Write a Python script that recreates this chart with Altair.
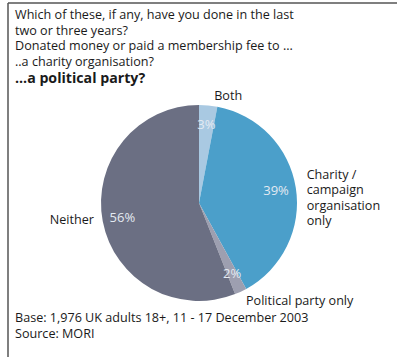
import altair as alt
import pandas as pd

categories = ["Both", "Charity / campaign organisation only", "Political party only", "Neither"]
values = [3, 39, 2, 56]
colors = ["#a9c9e2", "#4b9fca", "#9d9fb0", "#6b6f83"]
pct_labels = ["3%", "39%", "2%", "56%"]
title_lines = [
    "Which of these, if any, have you done in the last",
    "two or three years?",
    "Donated money or paid a membership fee to ...",
    "..a charity organisation?",
]
subtitle = "...a political party?"
footer_lines = ["Base: 1,976 UK adults 18+, 11 - 17 December 2003", "Source: MORI"]

df = pd.DataFrame({"cat": categories, "value": values, "pct": pct_labels,
                   "order": list(range(len(categories)))})

FONT = "Open Sans"
FS = 12.6
CX, CY, R = 199, 203, 98

base = alt.Chart(df).transform_stack(
    stack="value", groupby=[], as_=["v0", "v1"], sort=[alt.SortField("order")]
).transform_calculate(vmid="(datum.v0 + datum.v1) / 2")

theta_scale = alt.Scale(domain=[0, 100], range=[0, 6.283185307179586])

arcs = base.mark_arc(outerRadius=R, stroke=None).encode(
    theta=alt.Theta("v0:Q", scale=theta_scale),
    theta2="v1:Q",
    color=alt.Color("cat:N", scale=alt.Scale(domain=categories, range=colors), legend=None),
    x=alt.value(CX), y=alt.value(CY),
)

pcts = base.mark_text(radius=78, font=FONT, fontSize=13, color="#e4eaf2").encode(
    theta=alt.Theta("vmid:Q", scale=theta_scale),
    text="pct:N", x=alt.value(CX), y=alt.value(CY),
)

def outer(cat, text, align, baseline, dx, dy, radius=108):
    return base.transform_filter(alt.datum.cat == cat).mark_text(
        radius=radius, font=FONT, fontSize=FS, color="#1a1a1a",
        align=align, baseline=baseline, dx=dx, dy=dy, lineHeight=15.4).encode(
        theta=alt.Theta("vmid:Q", scale=theta_scale),
        text=alt.value(text), x=alt.value(CX), y=alt.value(CY),
    )

lab_both = outer(categories[0], "Both", "center", "middle", 19, 1)
lab_char = outer(categories[1], ["Charity /", "campaign", "organisation", "only"], "left", "top", 1, -17)
lab_pol = outer(categories[2], "Political party only", "left", "middle", 1, 0)
lab_nei = outer(categories[3], "Neither", "right", "middle", 1, -3)

def txt(s, x, y, bold=False, size=FS):
    return alt.Chart(pd.DataFrame({"t": [s]})).mark_text(
        align="left", baseline="middle", font=FONT, fontSize=size,
        fontWeight="bold" if bold else "normal", color="#1a1a1a",
    ).encode(text="t:N", x=alt.value(x), y=alt.value(y))

texts = [txt(s, 15, 15 + i * 15.6) for i, s in enumerate(title_lines)]
texts.append(txt(subtitle, 15, 79, bold=True, size=14.2))
texts += [txt(s, 15, 318 + i * 15.5) for i, s in enumerate(footer_lines)]

frame_top = alt.Chart(pd.DataFrame({"a": [0]})).mark_rule(color="#555555", strokeWidth=1.5).encode(
    x=alt.value(8), x2=alt.value(397), y=alt.value(3))
frame_left = alt.Chart(pd.DataFrame({"a": [0]})).mark_rule(color="#555555", strokeWidth=1.5).encode(
    x=alt.value(8), y=alt.value(3), y2=alt.value(357))

chart = alt.layer(frame_top, frame_left, arcs, pcts, lab_both, lab_char, lab_pol, lab_nei, *texts).properties(
    width=397, height=357, padding=0, autosize=alt.AutoSizeParams(type="none"),
    background="white",
).configure_view(stroke=None)

chart.save("out.html", embed_options={"renderer": "svg", "actions": False})
